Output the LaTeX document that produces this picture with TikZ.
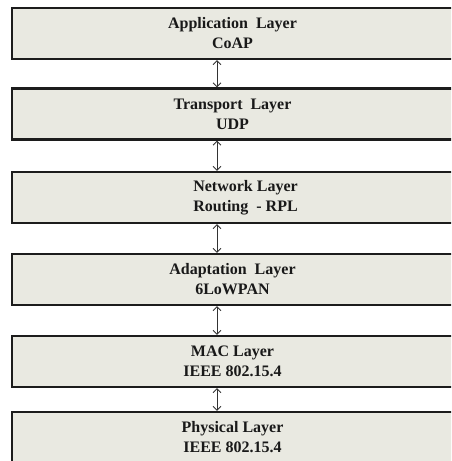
\documentclass[tikz,border=0pt]{standalone}
\usepackage{fontspec}
\setmainfont{Liberation Serif}
\usetikzlibrary{arrows.meta,positioning}

\definecolor{layerfill}{RGB}{233,233,225}
\definecolor{layerline}{RGB}{28,28,28}

\begin{document}
\begin{tikzpicture}[x=1pt,y=-1pt,>=Stealth,
  layer/.style={draw=layerline,line width=2.2pt,fill=layerfill,
    minimum width=441pt,minimum height=51pt,inner sep=0pt,align=center,
    font=\bfseries\fontsize{16}{20}\selectfont,text=black!90},
  link/.style={{Straight Barb[length=4pt,width=8pt]}-{Straight Barb[length=4pt,width=8pt]},
    line width=0.9pt,draw=black!80}]
\useasboundingbox (0,0) rectangle (451,461);
\clip (0,0) rectangle (451,461);
% protocol stack, top to bottom
\node[layer] (app) at (232.5,33.5)  {Application\ \ Layer\\CoAP};
\node[layer] (tra) at (232.5,114)   {Transport\ \ Layer\\UDP};
\node[layer] (net) at (232.5,197.5) {\hspace*{26pt}Network Layer\\\hspace*{26pt}Routing\ \ - RPL};
\node[layer] (ada) at (232.5,279.5) {Adaptation\ \ Layer\\6LoWPAN};
\node[layer] (mac) at (232.5,361.5) {MAC Layer\\IEEE 802.15.4};
\node[layer] (phy) at (232.5,437.5) {Physical Layer\\IEEE 802.15.4};
% links between neighbouring layers
\foreach \a/\b in {app/tra,tra/net,net/ada,ada/mac,mac/phy}
  \draw[link] ([xshift=-15.5pt]\a.south) -- ([xshift=-15.5pt]\b.north);
\end{tikzpicture}
\end{document}
